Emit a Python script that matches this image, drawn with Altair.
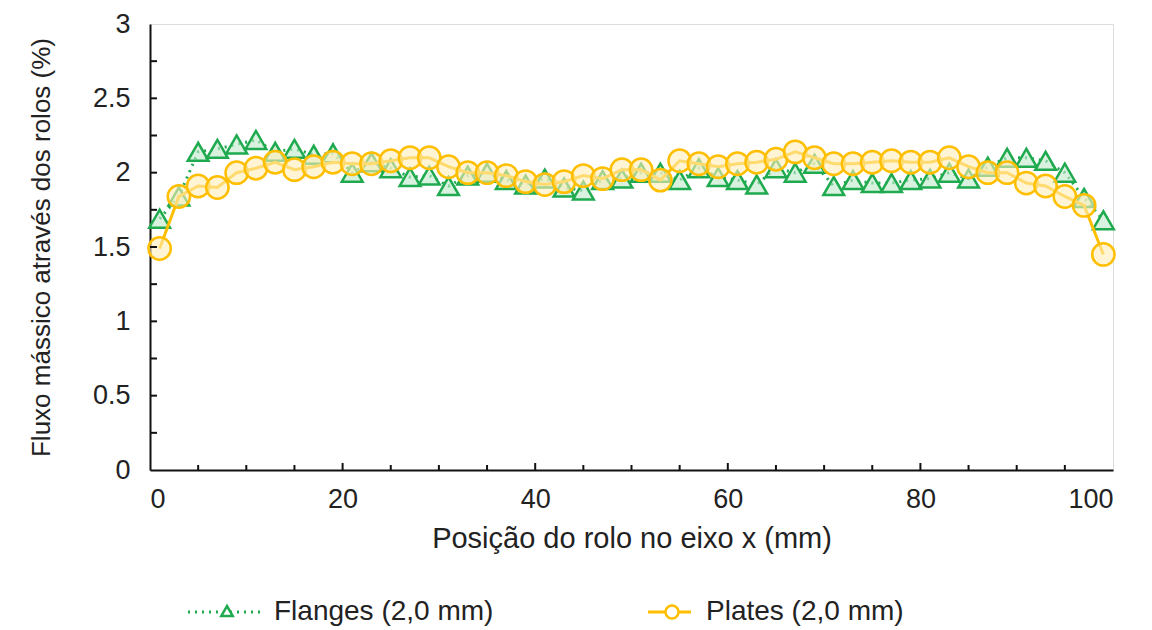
import altair as alt
import pandas as pd

# ---- data ----
pos_mm = [1, 3, 5, 7, 9, 11, 13, 15, 17, 19, 21, 23, 25, 27, 29, 31, 33, 35, 37, 39,
          41, 43, 45, 47, 49, 51, 53, 55, 57, 59, 61, 63, 65, 67, 69, 71, 73, 75, 77, 79,
          81, 83, 85, 87, 89, 91, 93, 95, 97, 99]

flanges = [1.69, 1.84, 2.14, 2.16, 2.19, 2.22, 2.14, 2.16, 2.12, 2.13,
           2.00, 2.07, 2.03, 1.97, 1.98, 1.91, 1.98, 2.00, 1.95, 1.92,
           1.96, 1.90, 1.88, 1.95, 1.96, 2.00, 2.00, 1.95, 2.03, 1.97,
           1.95, 1.92, 2.03, 2.00, 2.06, 1.91, 1.95, 1.93, 1.93, 1.95,
           1.96, 2.00, 1.96, 2.04, 2.10, 2.10, 2.08, 2.00, 1.83, 1.68]

plates = [1.49, 1.84, 1.91, 1.90, 2.00, 2.03, 2.07, 2.02, 2.04, 2.07,
          2.06, 2.06, 2.08, 2.10, 2.10, 2.04, 2.00, 2.00, 1.98, 1.94,
          1.92, 1.94, 1.98, 1.96, 2.02, 2.02, 1.95, 2.08, 2.06, 2.04,
          2.06, 2.07, 2.09, 2.14, 2.10, 2.06, 2.06, 2.07, 2.08, 2.07,
          2.07, 2.10, 2.04, 2.00, 2.00, 1.93, 1.91, 1.84, 1.78, 1.45]

series_names = ["Flanges (2,0 mm)", "Plates (2,0 mm)"]

y_tick_labels = [0, 0.5, 1, 1.5, 2, 2.5, 3]
y_minor_ticks = [0.25, 0.5, 0.75, 1, 1.25, 1.5, 1.75, 2, 2.25, 2.5, 2.75]
x_tick_labels = [0, 20, 40, 60, 80, 100]
x_minor_ticks = [5, 10, 15, 25, 30, 35, 45, 50, 55, 65, 70, 75, 85, 90, 95]
x_major_ticks = [20, 40, 60, 80]

x_title = "Posição do rolo no eixo x (mm)"
y_title = "Fluxo mássico  através dos rolos (%)"

# ---- styling ----
GREEN = "#1faa4f"
GREEN_FILL = "#bfe9cc"
YELLOW = "#ffbf00"
YELLOW_FILL = "#ffecb8"
FONT = "Liberation Sans"
W, H = 963, 446

df_f = pd.DataFrame({"x": pos_mm, "y": flanges})
df_p = pd.DataFrame({"x": pos_mm, "y": plates})

xs = alt.Scale(domain=[0, 100], nice=False, zero=False)
ys = alt.Scale(domain=[0, 3], nice=False)

x_axis = alt.Axis(values=x_tick_labels, title=x_title, grid=False, ticks=False,
                  labelFontSize=27, titleFontSize=29, labelPadding=16, titlePadding=12,
                  domainColor="#111", domainWidth=2, labelColor="#222", titleColor="#222",
                  titleFontWeight="normal", labelFont=FONT, titleFont=FONT)
y_axis = alt.Axis(values=y_tick_labels, format="~g", title=y_title, grid=False, ticks=False,
                  labelFontSize=27, titleFontSize=26, labelPadding=20, titlePadding=38,
                  domainColor="#111", domainWidth=2, labelColor="#222", titleColor="#222",
                  titleFontWeight="normal", labelFont=FONT, titleFont=FONT)

X = alt.X("x:Q", scale=xs, axis=x_axis)
Y = alt.Y("y:Q", scale=ys, axis=y_axis)

f_line = alt.Chart(df_f).mark_line(color=GREEN, strokeWidth=3, strokeDash=[2, 5]).encode(x=X, y=Y)
f_pts = alt.Chart(df_f).mark_point(shape="triangle-up", size=430, filled=True, fill=GREEN_FILL,
                                   fillOpacity=0.6, stroke=GREEN, strokeWidth=2.5, opacity=1).encode(x=X, y=Y)
p_line = alt.Chart(df_p).mark_line(color=YELLOW, strokeWidth=3).encode(x=X, y=Y)
p_pts = alt.Chart(df_p).mark_point(shape="circle", size=500, filled=True, fill=YELLOW_FILL,
                                   fillOpacity=0.6, stroke=YELLOW, strokeWidth=2.5, opacity=1).encode(x=X, y=Y)

# inward ticks
ytick_df = pd.DataFrame({"v": y_minor_ticks})
yticks = alt.Chart(ytick_df).mark_rule(color="#111", strokeWidth=2).encode(
    y=alt.Y("v:Q", scale=ys), x=alt.value(0), x2=alt.value(7))
xminor = alt.Chart(pd.DataFrame({"v": x_minor_ticks})).mark_rule(color="#111", strokeWidth=2).encode(
    x=alt.X("v:Q", scale=xs), y=alt.value(H), y2=alt.value(H - 5))
xmajor = alt.Chart(pd.DataFrame({"v": x_major_ticks})).mark_rule(color="#111", strokeWidth=2).encode(
    x=alt.X("v:Q", scale=xs), y=alt.value(H), y2=alt.value(H - 7))

# legend (below the plot)
LY = 588
one = pd.DataFrame({"a": [0]})
leg_f_line = alt.Chart(one).mark_rule(color=GREEN, strokeWidth=3, strokeDash=[2, 5]).encode(
    x=alt.value(38), x2=alt.value(113), y=alt.value(LY))
leg_f_pt = alt.Chart(one).mark_point(shape="triangle-up", size=130, filled=True, fill="white",
                                     stroke=GREEN, strokeWidth=2.5, opacity=1).encode(
    x=alt.value(77), y=alt.value(LY - 1))
leg_f_txt = alt.Chart(one).mark_text(align="left", baseline="middle", font=FONT, fontSize=28,
                                     color="#222").encode(
    x=alt.value(124), y=alt.value(LY), text=alt.value(series_names[0]))
leg_p_line = alt.Chart(one).mark_rule(color=YELLOW, strokeWidth=3).encode(
    x=alt.value(498), x2=alt.value(541), y=alt.value(LY))
leg_p_pt = alt.Chart(one).mark_point(shape="circle", size=170, filled=True, fill="white",
                                     stroke=YELLOW, strokeWidth=2.5, opacity=1).encode(
    x=alt.value(522), y=alt.value(LY))
leg_p_txt = alt.Chart(one).mark_text(align="left", baseline="middle", font=FONT, fontSize=28,
                                     color="#222").encode(
    x=alt.value(556), y=alt.value(LY), text=alt.value(series_names[1]))

chart = alt.layer(
    f_line, f_pts, p_line, p_pts, yticks, xminor, xmajor,
    leg_f_line, leg_f_pt, leg_f_txt, leg_p_line, leg_p_pt, leg_p_txt
).properties(
    width=W, height=H,
    autosize=alt.AutoSizeParams(type="none"),
    padding={"left": 150, "top": 24, "right": 39, "bottom": 160},
).configure_view(
    stroke="#333", strokeWidth=2
).configure(background="white")

chart.save("out.html", embed_options={"renderer": "svg", "actions": False})
